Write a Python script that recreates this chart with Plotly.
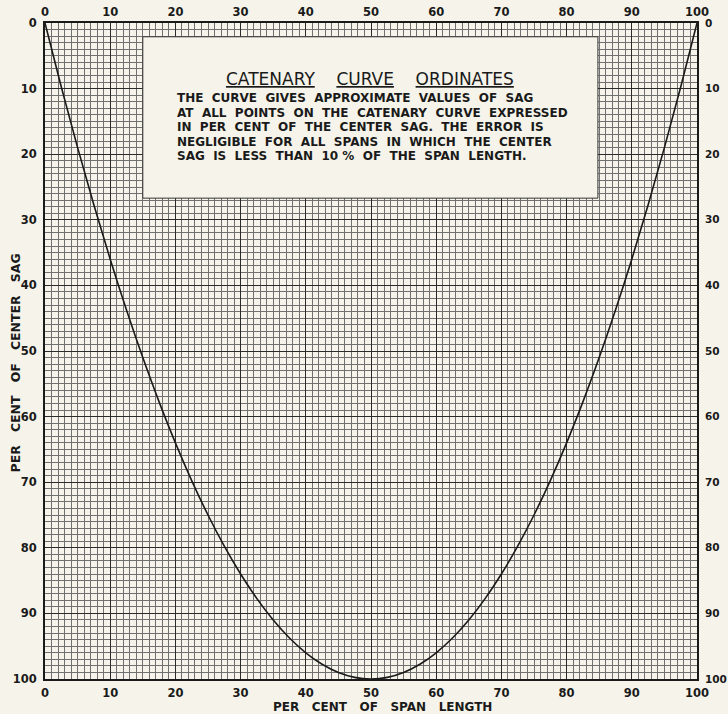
import plotly.graph_objects as go

# Data (per cent of span length vs per cent of center sag)
span_pct = [0, 2.5, 5, 7.5, 10, 12.5, 15, 17.5, 20, 22.5, 25, 27.5, 30, 32.5, 35, 37.5,
            40, 42.5, 45, 47.5, 50, 52.5, 55, 57.5, 60, 62.5, 65, 67.5, 70, 72.5, 75,
            77.5, 80, 82.5, 85, 87.5, 90, 92.5, 95, 97.5, 100]
sag_pct = [0, 9.75, 19, 27.75, 36, 43.75, 51, 57.75, 64, 69.75, 75, 79.75, 84, 87.75, 91, 93.75,
           96, 97.75, 99, 99.75, 100, 99.75, 99, 97.75, 96, 93.75, 91, 87.75, 84, 79.75, 75,
           69.75, 64, 57.75, 51, 43.75, 36, 27.75, 19, 9.75, 0]
tick_vals = [0, 10, 20, 30, 40, 50, 60, 70, 80, 90, 100]
tick_text = [str(v) for v in tick_vals]

title_text = "<u>CATENARY</u>    <u>CURVE</u>    <u>ORDINATES</u>"
body_lines = [
    "THE  CURVE  GIVES  APPROXIMATE  VALUES  OF  SAG",
    "AT  ALL  POINTS  ON  THE  CATENARY  CURVE  EXPRESSED",
    "IN  PER  CENT  OF  THE  CENTER  SAG.  THE  ERROR  IS",
    "NEGLIGIBLE  FOR  ALL  SPANS  IN  WHICH  THE  CENTER",
    "SAG  IS  LESS  THAN  10 %  OF  THE  SPAN  LENGTH.",
]
x_title = "PER   CENT   OF   SPAN   LENGTH"
y_title = "PER   CENT   OF   CENTER   SAG"

BG = "#f6f4ea"
INK = "#1a1a1a"
FONT = "DejaVu Sans"

fig = go.Figure()
fig.add_trace(go.Scatter(x=span_pct, y=sag_pct, mode="lines",
                         line=dict(color=INK, width=1.6, shape="spline", smoothing=1.0),
                         showlegend=False, hoverinfo="skip"))
# invisible trace for secondary axes
fig.add_trace(go.Scatter(x=[0, 100], y=[0, 100], xaxis="x2", yaxis="y2", mode="markers",
                         marker=dict(opacity=0), showlegend=False, hoverinfo="skip"))

tickfont = dict(family=FONT, size=11.5, color=INK, weight="bold")
rightfont = dict(family=FONT, size=10.5, color=INK, weight="bold")

common_main = dict(range=[0, 100], tickvals=tick_vals, ticktext=tick_text, ticks="",
                   showline=True, linecolor=INK, linewidth=2, mirror=True,
                   showgrid=True, gridcolor="#2a2a2a", gridwidth=1.4,
                   minor=dict(dtick=1, showgrid=True, gridcolor="#707070", gridwidth=0.7),
                   zeroline=False, tickfont=tickfont, automargin=False)

fig.update_layout(
    width=728, height=714,
    paper_bgcolor=BG, plot_bgcolor=BG,
    margin=dict(l=45, r=31, t=23, b=35, pad=0, autoexpand=False),
    xaxis=dict(**common_main, ticklabelstandoff=2),
    yaxis=dict(**{**common_main, "range": [100, 0]}, ticklabelstandoff=4),
    xaxis2=dict(range=[0, 100], overlaying="x", side="top", tickvals=tick_vals,
                ticktext=tick_text, ticks="", showgrid=False, zeroline=False,
                showline=False, tickfont=tickfont, ticklabelstandoff=4, automargin=False),
    yaxis2=dict(range=[100, 0], overlaying="y", side="right", tickvals=tick_vals,
                ticktext=tick_text, ticks="", showgrid=False, zeroline=False,
                showline=False, tickfont=rightfont, ticklabelstandoff=7, automargin=False),
)

# text box
fig.add_shape(type="rect", xref="x", yref="y", x0=15, x1=84.8, y0=2.1, y1=26.7,
              fillcolor=BG, line=dict(color="#333333", width=1), layer="between")

fig.add_annotation(x=49.8, y=8.6, xref="x", yref="y", text=title_text, showarrow=False,
                   font=dict(family=FONT, size=17, color=INK), xanchor="center", yanchor="middle")
for i, line in enumerate(body_lines):
    fig.add_annotation(x=20, y=11.5 + i * 2.2, xref="x", yref="y", text=line, showarrow=False,
                       font=dict(family=FONT, size=12, color=INK, weight="bold"),
                       xanchor="left", yanchor="middle")

# axis titles
fig.add_annotation(x=0.517, y=-0.043, xref="paper", yref="paper", text=x_title,
                   showarrow=False, font=dict(family=FONT, size=12, color=INK, weight="bold"),
                   xanchor="center", yanchor="middle")
fig.add_annotation(x=-0.046, y=0.481, xref="paper", yref="paper", text=y_title,
                   showarrow=False, textangle=-90,
                   font=dict(family=FONT, size=12.5, color=INK, weight="bold"),
                   xanchor="center", yanchor="middle")

fig.write_html("out.html", config={"displayModeBar": False},
               post_script="document.body.style.margin='0';document.body.style.overflow='hidden';")
